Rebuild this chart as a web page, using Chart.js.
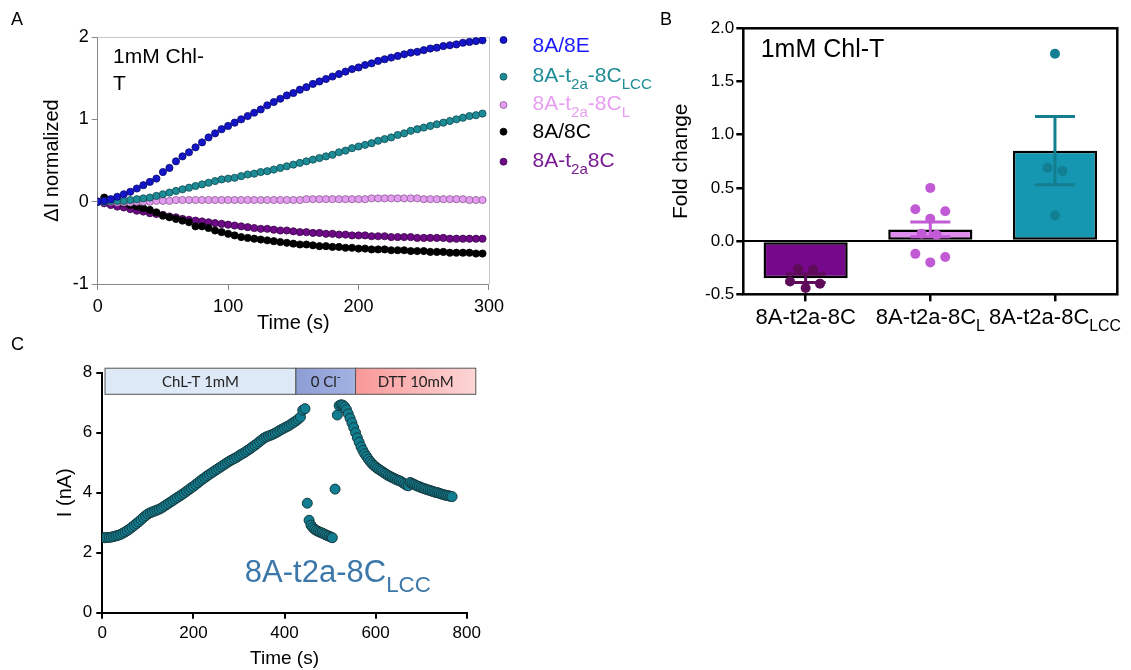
<!DOCTYPE html>
<html>
<head>
<meta charset="utf-8">
<script src="https://cdn.jsdelivr.net/npm/chart.js@4.4.1/dist/chart.umd.min.js"></script>
<style>
  html, body { margin: 0; padding: 0; background: #fff; }
  #wrap { position: relative; width: 1131px; height: 670px; overflow: hidden; }
  #wrap canvas { position: absolute; left: 0; top: 0; }
  .panel { position: absolute; font: 18px "Liberation Sans", Arial, sans-serif; line-height: 1; color: #000; }
</style>
</head>
<body>
<div id="wrap">
  <canvas id="chartA" width="1131" height="670"></canvas>
  <canvas id="chartB" width="1131" height="670"></canvas>
  <canvas id="chartC" width="1131" height="670"></canvas>
  <div class="panel" style="left:11px;top:10px">A</div>
  <div class="panel" style="left:660px;top:10px">B</div>
  <div class="panel" style="left:11px;top:335px">C</div>
</div>
<script>
const FONT = '"Liberation Sans", Arial, sans-serif';
Chart.defaults.font.family = FONT;
Chart.defaults.color = '#000';

// ---- panel A: normalized current vs time ----
const timeA = [0,5,10,15,20,25,30,35,40,45,50,55,60,65,70,75,80,85,90,95,
  100,105,110,115,120,125,130,135,140,145,150,155,160,165,170,175,180,185,190,195,
  200,205,210,215,220,225,230,235,240,245,250,255,260,265,270,275,280,285,290,295];
const vals8E = [0.00,0.01,0.03,0.06,0.09,0.12,0.16,0.20,0.24,0.28,0.36,0.41,0.49,0.55,0.60,0.66,0.72,0.78,0.83,0.88,
  0.92,0.96,1.00,1.04,1.08,1.12,1.17,1.21,1.25,1.29,1.32,1.36,1.39,1.43,1.46,1.49,1.52,1.55,1.58,1.61,
  1.63,1.66,1.68,1.71,1.73,1.75,1.77,1.79,1.81,1.82,1.84,1.86,1.87,1.89,1.90,1.91,1.93,1.94,1.95,1.96];
const valsLCC = [0.00,0.00,0.01,0.01,0.01,0.02,0.03,0.04,0.05,0.07,0.09,0.11,0.13,0.15,0.17,0.19,0.21,0.23,0.25,0.27,
  0.28,0.29,0.31,0.33,0.34,0.36,0.37,0.39,0.41,0.43,0.45,0.47,0.49,0.51,0.53,0.55,0.57,0.60,0.62,0.65,
  0.67,0.69,0.71,0.74,0.76,0.78,0.81,0.83,0.86,0.88,0.90,0.92,0.94,0.96,0.98,1.00,1.02,1.04,1.05,1.07];
const valsL = [0.00,0.00,0.00,-0.01,-0.01,-0.01,0.00,0.00,0.00,0.01,0.01,0.01,0.02,0.02,0.02,0.02,0.02,0.02,0.02,0.02,
  0.02,0.02,0.02,0.02,0.02,0.02,0.02,0.02,0.02,0.02,0.02,0.02,0.03,0.03,0.03,0.03,0.03,0.03,0.03,0.03,
  0.03,0.03,0.04,0.04,0.04,0.04,0.04,0.04,0.04,0.04,0.03,0.03,0.03,0.03,0.03,0.03,0.03,0.02,0.02,0.02];
const vals8C = [0.00,0.05,0.02,0.00,-0.02,-0.04,-0.06,-0.08,-0.10,-0.13,-0.17,-0.19,-0.21,-0.23,-0.25,-0.30,-0.30,-0.32,-0.35,-0.37,
  -0.39,-0.41,-0.43,-0.44,-0.45,-0.46,-0.47,-0.48,-0.49,-0.50,-0.51,-0.52,-0.52,-0.53,-0.54,-0.54,-0.55,-0.55,-0.56,-0.56,
  -0.57,-0.57,-0.58,-0.58,-0.58,-0.59,-0.59,-0.59,-0.60,-0.60,-0.60,-0.61,-0.61,-0.61,-0.62,-0.62,-0.62,-0.62,-0.63,-0.63];
const valsT8C = [0.00,-0.02,-0.04,-0.06,-0.07,-0.09,-0.11,-0.12,-0.14,-0.15,-0.16,-0.18,-0.19,-0.21,-0.22,-0.23,-0.24,-0.25,-0.26,-0.27,
  -0.28,-0.29,-0.30,-0.31,-0.32,-0.33,-0.33,-0.34,-0.35,-0.35,-0.36,-0.37,-0.37,-0.38,-0.38,-0.39,-0.39,-0.40,-0.40,-0.41,
  -0.41,-0.41,-0.42,-0.42,-0.42,-0.43,-0.43,-0.43,-0.43,-0.44,-0.44,-0.44,-0.44,-0.44,-0.45,-0.45,-0.45,-0.45,-0.45,-0.45];
const namesA = ['8A/8E', '8A-t_{2a}-8C_{LCC}', '8A-t_{2a}-8C_{L}', '8A/8C', '8A-t_{2a}8C'];

// ---- panel B: fold change bars ----
const catB = ['8A-t2a-8C', '8A-t2a-8C_{L}', '8A-t2a-8C_{LCC}'];
const meanB = [-0.35, 0.11, 0.85];
const semB = [0.04, 0.07, 0.32];
const dotsXB = [[-0.06, 0.06, -0.125, 0.115, 0.0],
  [1.0, 0.88, 1.12, 1.0, 0.93, 1.05, 0.88, 1.12, 1.0],
  [2.0, 1.94, 2.06, 2.0]];
const dotsYB = [[-0.26, -0.27, -0.38, -0.40, -0.44],
  [0.50, 0.30, 0.28, 0.21, 0.07, 0.06, -0.12, -0.15, -0.20],
  [1.76, 0.69, 0.66, 0.24]];

// ---- panel C: current trace ----
const timeRise = [0,5,10,15,20,25,30,35,40,45,50,55,60,65,70,75,80,85,90,95,
  100,105,110,115,120,125,130,135,140,145,150,155,160,165,170,175,180,185,190,195,
  200,205,210,215,220,225,230,235,240,245,250,255,260,265,270,275,280,285,290,295,
  300,305,310,315,320,325,330,335,340,345,350,355,360,365,370,375,380,385,390,395,
  400,405,410,415,420,425,430,435,440,445];
const currRise = [2.50,2.50,2.51,2.51,2.52,2.54,2.56,2.58,2.61,2.65,2.69,2.74,2.79,2.85,2.91,2.97,3.03,3.10,3.17,3.23,
  3.29,3.33,3.36,3.39,3.42,3.45,3.49,3.54,3.59,3.64,3.69,3.74,3.79,3.84,3.89,3.94,3.99,4.05,4.10,4.16,
  4.21,4.27,4.33,4.39,4.45,4.50,4.56,4.61,4.66,4.71,4.76,4.81,4.86,4.91,4.96,5.01,5.06,5.10,5.14,5.18,
  5.23,5.28,5.32,5.37,5.42,5.47,5.53,5.58,5.64,5.70,5.76,5.82,5.86,5.89,5.92,5.95,5.99,6.03,6.08,6.12,
  6.16,6.20,6.24,6.29,6.34,6.39,6.45,6.52,6.75,6.80];
const timeDrop = [450,454,458,462,466,470,474,478,482,486,490,494,498,502,505];
const currDrop = [3.65,3.08,2.92,2.84,2.78,2.74,2.71,2.68,2.66,2.63,2.60,2.57,2.55,2.52,2.50];
const timeWash = [511,516,520,524,528,532,536,540,544,548,552,556,560,564,568,572,576,580,584,588,592,596,
  600,604,608,612,616,620,624,628,632,636,640,644,648,652,656,660,664,668,672,676,
  680,684,688,692,696,700,704,708,712,716,720,724,728,732,736,740,744,748,752,756,760,764,768];
const currWash = [4.12,6.59,6.90,6.93,6.92,6.86,6.77,6.63,6.48,6.33,6.17,6.00,
  5.83,5.68,5.53,5.41,5.30,5.21,5.12,5.04,4.97,4.91,
  4.86,4.81,4.77,4.73,4.69,4.65,4.61,4.57,4.54,4.51,
  4.48,4.45,4.42,4.40,4.37,4.33,4.29,4.25,4.23,4.34,
  4.31,4.28,4.25,4.22,4.20,4.17,4.15,4.13,4.11,4.09,
  4.07,4.05,4.03,4.01,4.00,3.98,3.96,3.94,3.92,3.91,3.90,3.88,3.87];
const phaseNames = ['ChL-T 1mM', '0 Cl^{-}', 'DTT 10mM'];
const phaseStart = [6, 425, 556];
const phaseEnd = [425, 556, 820];
const phaseLow = 7.28, phaseHigh = 8.15;

// text with _{sub} and ^{sup} markup
function strip(s) { return s.replace(/[_^]\{([^}]*)\}/g, '$1'); }
function richParts(s) {
  const out = [], re = /([_^])\{([^}]*)\}/g;
  let last = 0, m;
  while ((m = re.exec(s))) {
    if (m.index > last) out.push({ t: s.slice(last, m.index), k: '' });
    out.push({ t: m[2], k: m[1] });
    last = re.lastIndex;
  }
  if (last < s.length) out.push({ t: s.slice(last), k: '' });
  return out;
}
function drawRich(ctx, s, x, y, size, color, align, fam) {
  const parts = richParts(s), small = size * 0.72, family = fam || FONT;
  ctx.save();
  ctx.fillStyle = color;
  ctx.textBaseline = 'alphabetic';
  ctx.textAlign = 'left';
  let w = 0;
  parts.forEach(p => { ctx.font = (p.k ? small : size) + 'px ' + family; p.w = ctx.measureText(p.t).width; w += p.w; });
  let cx = align === 'center' ? x - w / 2 : (align === 'right' ? x - w : x);
  parts.forEach(p => {
    ctx.font = (p.k ? small : size) + 'px ' + family;
    const dy = p.k === '_' ? size * 0.33 : (p.k === '^' ? -size * 0.4 : 0);
    ctx.fillText(p.t, cx, y + dy);
    cx += p.w;
  });
  ctx.restore();
}

// ---------------- A ----------------
const fillA = ['#1414c8', '#1e8c96', '#e39cf0', '#000000', '#6e0a88'];
const edgeA = ['#0a0a70', '#0d4a50', '#8a5a90', '#000000', '#3a0548'];
const textA = ['#1a1aff', '#1e8c96', '#e89ef2', '#000000', '#7a1a96'];
const seriesA = [vals8E, valsLCC, valsL, vals8C, valsT8C];

const decorA = {
  id: 'decorA',
  beforeDatasetsDraw(chart) {
    const { ctx, chartArea: a } = chart;
    ctx.save();
    ctx.strokeStyle = '#c8c8c8';
    ctx.lineWidth = 1;
    ctx.beginPath();
    ctx.moveTo(a.left, a.top + 0.5);
    ctx.lineTo(a.right + 0.5, a.top + 0.5);
    ctx.lineTo(a.right + 0.5, a.bottom);
    ctx.stroke();
    ctx.restore();
  },
  afterDraw(chart) {
    const { ctx, chartArea: a } = chart;
    const markY = [3, 39.7, 68, 94.7, 124.7];
    const textY = [14.7, 45.3, 73, 101.3, 129.7];
    namesA.forEach((n, i) => {
      ctx.save();
      ctx.beginPath();
      ctx.arc(a.right + 14.5, a.top + markY[i], 3.5, 0, Math.PI * 2);
      ctx.fillStyle = fillA[i];
      ctx.fill();
      ctx.lineWidth = 0.8;
      ctx.strokeStyle = edgeA[i];
      ctx.stroke();
      ctx.restore();
      drawRich(ctx, n, a.right + 43.5, a.top + textY[i], 21, textA[i], 'left');
    });
    drawRich(ctx, '1mM Chl-', a.left + 15.3, a.top + 26.3, 21, '#000', 'left');
    drawRich(ctx, 'T', a.left + 15.3, a.top + 53, 21, '#000', 'left');
  }
};

new Chart(document.getElementById('chartA'), {
  type: 'scatter',
  data: {
    datasets: seriesA.map((vals, i) => ({
      label: strip(namesA[i]),
      data: vals.map((v, j) => ({ x: timeA[j], y: v })),
      backgroundColor: fillA[i],
      borderColor: edgeA[i],
      borderWidth: 0.8,
      pointRadius: 3.6
    }))
  },
  options: {
    responsive: false,
    animation: false,
    layout: { padding: { left: 0, top: 37, right: 642, bottom: 335 } },
    plugins: { legend: { display: false }, tooltip: { enabled: false } },
    scales: {
      x: {
        type: 'linear', min: 0, max: 300,
        ticks: { stepSize: 100, font: { size: 18 }, color: '#000', padding: 6, maxRotation: 0 },
        grid: { drawOnChartArea: false, tickLength: 6, color: '#888' },
        border: { color: '#888' },
        title: { display: true, text: 'Time (s)', font: { size: 20 }, color: '#000', padding: { top: 0, bottom: 0 } },
        afterFit: s => { s.height = 51; }
      },
      y: {
        min: -1, max: 2,
        ticks: { stepSize: 1, font: { size: 18 }, color: '#000', padding: 3 },
        grid: { drawOnChartArea: false, tickLength: 6, color: '#888' },
        border: { color: '#888' },
        title: { display: true, text: 'ΔI normalized', font: { size: 20 }, color: '#000', padding: { top: 40, bottom: 0 } },
        afterFit: s => { s.width = 97.7; }
      }
    }
  },
  plugins: [decorA]
});

// ---------------- B ----------------
const barFill = ['#76088c', '#df8ef0', '#1597b1'];
const dotFill = ['#5e0b5a', '#c25ad6', '#127f93'];
const errColor = ['#5e0b5a', '#c25ad6', '#147e91'];

const decorB = {
  id: 'decorB',
  beforeDatasetsDraw(chart) {
    const { ctx, chartArea: a, scales } = chart;
    const y0 = scales.y.getPixelForValue(0);
    ctx.save();
    ctx.strokeStyle = '#000';
    ctx.lineWidth = 2;
    ctx.beginPath();
    ctx.moveTo(a.left, y0);
    ctx.lineTo(a.right, y0);
    ctx.stroke();
    ctx.restore();
  },
  afterDatasetsDraw(chart) {
    const { ctx, scales } = chart;
    meanB.forEach((m, i) => {
      const x = scales.x.getPixelForValue(i);
      const yt = scales.y.getPixelForValue(m + semB[i]);
      const yb = scales.y.getPixelForValue(m - semB[i]);
      ctx.save();
      ctx.strokeStyle = errColor[i];
      ctx.lineWidth = 3;
      ctx.beginPath();
      ctx.moveTo(x, yt); ctx.lineTo(x, yb);
      ctx.moveTo(x - 20, yt); ctx.lineTo(x + 20, yt);
      ctx.moveTo(x - 20, yb); ctx.lineTo(x + 20, yb);
      ctx.stroke();
      ctx.restore();
    });
  },
  afterDraw(chart) {
    const { ctx, chartArea: a, scales } = chart;
    ctx.save();
    ctx.strokeStyle = '#000';
    ctx.lineWidth = 2.5;
    ctx.strokeRect(a.left, a.top, a.right - a.left, a.bottom - a.top);
    ctx.restore();
    catB.forEach((c, i) => {
      drawRich(ctx, c, scales.x.getPixelForValue(i), a.bottom + 29.7, 22, '#000', 'center');
    });
    drawRich(ctx, '1mM Chl-T', a.left + 17.4, a.top + 29, 25, '#000', 'left');
  }
};

new Chart(document.getElementById('chartB'), {
  type: 'bar',
  data: {
    datasets: [
      {
        type: 'bar', label: 'Fold change',
        data: meanB.map((v, i) => ({ x: i, y: v })),
        backgroundColor: barFill, borderColor: '#000', borderWidth: 2.5, borderSkipped: false,
        barPercentage: 0.675, categoryPercentage: 1, grouped: false, order: 2
      },
      ...dotsYB.map((ys, i) => ({
        type: 'scatter', label: strip(catB[i]),
        data: ys.map((v, j) => ({ x: dotsXB[i][j], y: v })),
        backgroundColor: dotFill[i], borderWidth: 0, pointRadius: 5, order: 1
      }))
    ]
  },
  options: {
    responsive: false,
    animation: false,
    layout: { padding: { left: 660, top: 28.3, right: 13.7, bottom: 335.7 } },
    plugins: { legend: { display: false }, tooltip: { enabled: false } },
    scales: {
      x: {
        type: 'linear', min: -0.5, max: 2.5, offset: false,
        afterBuildTicks: s => { s.ticks = catB.map((c, i) => ({ value: i })); },
        ticks: { callback: () => '', font: { size: 12 }, autoSkip: false, maxRotation: 0 },
        grid: { drawOnChartArea: false, offset: false, tickLength: 7, color: '#000', lineWidth: 2.5 },
        border: { display: false },
        afterFit: s => { s.height = 40; }
      },
      y: {
        min: -0.5, max: 2,
        ticks: { stepSize: 0.5, font: { size: 17 }, color: '#000', padding: 2, callback: v => v.toFixed(1) },
        grid: { drawOnChartArea: false, tickLength: 7, color: '#000', lineWidth: 2.5 },
        border: { display: false },
        title: { display: true, text: 'Fold change', font: { size: 21 }, color: '#000', padding: { top: 9, bottom: 0 } },
        afterFit: s => { s.width = 83.3; }
      }
    }
  },
  plugins: [decorB]
});

// ---------------- C ----------------
const decorC = {
  id: 'decorC',
  afterDraw(chart) {
    const { ctx, scales } = chart;
    const fx = scales.x, fy = scales.y;
    const yT = fy.getPixelForValue(phaseHigh), yB = fy.getPixelForValue(phaseLow);
    phaseNames.forEach((n, i) => {
      const x0 = fx.getPixelForValue(phaseStart[i]), x1 = fx.getPixelForValue(phaseEnd[i]);
      ctx.save();
      let fill = '#dde9f6';
      if (i === 1) {
        fill = ctx.createLinearGradient(x0, 0, x1, 0);
        fill.addColorStop(0, '#8d9ed6');
        fill.addColorStop(1, '#a3b2e1');
      } else if (i === 2) {
        fill = ctx.createLinearGradient(x0, 0, x1, 0);
        fill.addColorStop(0, '#f99898');
        fill.addColorStop(1, '#fdd6d6');
      }
      ctx.fillStyle = fill;
      ctx.fillRect(x0, yT, x1 - x0, yB - yT);
      ctx.strokeStyle = '#555';
      ctx.lineWidth = 1;
      ctx.strokeRect(x0, yT, x1 - x0, yB - yT);
      ctx.restore();
      drawRich(ctx, n, (x0 + x1) / 2, (yT + yB) / 2 + 5.5, 15, '#222', 'center', 'Lato, "Open Sans", sans-serif');
    });
    drawRich(ctx, '8A-t2a-8C_{LCC}', fx.getPixelForValue(313), fy.getPixelForValue(1.03), 31, '#3c77aa', 'left');
  }
};

new Chart(document.getElementById('chartC'), {
  type: 'scatter',
  data: {
    datasets: [{
      label: '8A-t2a-8CLCC',
      data: timeRise.concat(timeDrop, timeWash).map((t, j) => ({ x: t, y: currRise.concat(currDrop, currWash)[j] })),
      backgroundColor: '#107e90',
      borderColor: '#173a40',
      borderWidth: 1,
      pointRadius: 5
    }]
  },
  options: {
    responsive: false,
    animation: false,
    layout: { padding: { left: 40, top: 372.7, right: 664.3, bottom: 0 } },
    plugins: { legend: { display: false }, tooltip: { enabled: false } },
    scales: {
      x: {
        type: 'linear', min: 0, max: 800,
        ticks: { stepSize: 200, font: { size: 17 }, color: '#000', padding: 4, maxRotation: 0 },
        grid: { drawOnChartArea: false, tickLength: 6, color: '#000', lineWidth: 2 },
        border: { color: '#000', width: 2 },
        title: { display: true, text: 'Time (s)', font: { size: 19 }, color: '#000', padding: { top: 0, bottom: 0 } },
        afterFit: s => { s.height = 57.3; }
      },
      y: {
        min: 0, max: 8,
        ticks: { stepSize: 2, font: { size: 17 }, color: '#000', padding: 4 },
        grid: { drawOnChartArea: false, tickLength: 6, color: '#000', lineWidth: 2 },
        border: { color: '#000', width: 2 },
        title: { display: true, text: 'I (nA)', font: { size: 20 }, color: '#000', padding: { top: 13, bottom: 0 } },
        afterFit: s => { s.width = 62.3; }
      }
    }
  },
  plugins: [decorC]
});
</script>
</body>
</html>
